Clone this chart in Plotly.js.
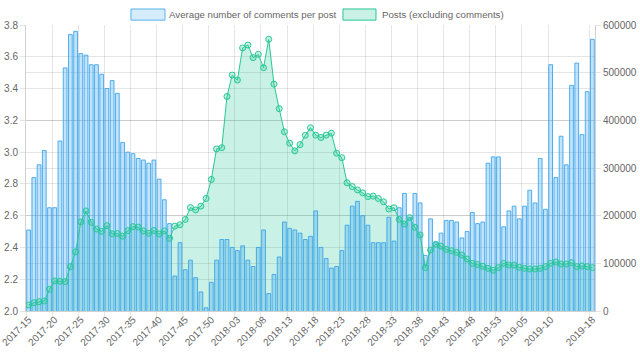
<!DOCTYPE html>
<html><head><meta charset="utf-8">
<script src="https://cdn.plot.ly/plotly-3.0.1.min.js"></script>
<style>html,body{margin:0;padding:0;background:#fff}#chart{width:640px;height:361px}</style>
</head><body><div id="chart"></div>
<script>
const weeks = [
"2017-15","2017-16","2017-17","2017-18","2017-19","2017-20","2017-21","2017-22","2017-23","2017-24",
"2017-25","2017-26","2017-27","2017-28","2017-29","2017-30","2017-31","2017-32","2017-33","2017-34",
"2017-35","2017-36","2017-37","2017-38","2017-39","2017-40","2017-41","2017-42","2017-43","2017-44",
"2017-45","2017-46","2017-47","2017-48","2017-49","2017-50","2017-51","2017-52",
"2018-01","2018-02","2018-03","2018-04","2018-05","2018-06","2018-07","2018-08","2018-09","2018-10",
"2018-11","2018-12","2018-13","2018-14","2018-15","2018-16","2018-17","2018-18","2018-19","2018-20",
"2018-21","2018-22","2018-23","2018-24","2018-25","2018-26","2018-27","2018-28","2018-29","2018-30",
"2018-31","2018-32","2018-33","2018-34","2018-35","2018-36","2018-37","2018-38","2018-39","2018-40",
"2018-41","2018-42","2018-43","2018-44","2018-45","2018-46","2018-47","2018-48","2018-49","2018-50",
"2018-51","2018-52","2018-53",
"2019-01","2019-02","2019-03","2019-04","2019-05","2019-06","2019-07","2019-08","2019-09","2019-10",
"2019-11","2019-12","2019-13","2019-14","2019-15","2019-16","2019-17","2019-18"
];
const avgComments = [
2.51,2.84,2.92,3.01,2.65,2.65,3.07,3.53,3.74,3.76,
3.62,3.61,3.55,3.55,3.49,3.40,3.45,3.37,3.06,3.00,
2.99,2.96,2.95,2.93,2.95,2.83,2.70,2.55,2.22,2.43,
2.26,2.32,2.21,2.12,2.02,2.18,2.32,2.45,2.45,2.40,
2.38,2.41,2.32,2.28,2.40,2.51,2.11,2.23,2.34,2.56,
2.52,2.51,2.49,2.45,2.47,2.63,2.40,2.33,2.27,2.28,
2.38,2.54,2.66,2.69,2.60,2.54,2.43,2.43,2.43,2.59,
2.44,2.65,2.74,2.59,2.74,2.68,2.35,2.58,2.43,2.49,
2.57,2.57,2.56,2.46,2.50,2.62,2.55,2.56,2.93,2.97,
2.97,2.53,2.63,2.66,2.58,2.66,2.76,2.68,2.96,2.64,
3.55,2.84,3.10,2.92,3.42,3.56,3.11,3.38,3.71
];
const posts = [
12600,17400,19500,21000,45500,63000,62500,61500,93000,124000,
187000,210000,186000,172000,167000,179000,162000,162500,157000,168500,
177000,176000,168000,163000,169000,161500,168000,152500,178000,181000,
192000,217000,212000,220000,236000,276000,340000,342600,450000,495000,
484600,552000,558000,531500,538500,510500,570000,476000,424500,376000,
352000,336000,349000,368500,384500,369000,364000,369000,373000,331000,
321600,269000,261000,254000,248000,240000,241000,236000,229000,214000,
216700,192000,182500,195800,175600,159500,91000,128000,140000,136000,
129400,126500,123000,117500,109000,100000,97500,94000,89500,85500,
91000,100000,96500,96500,91700,89500,88100,88100,89500,93000,
100000,102800,98600,98600,101400,93000,94400,93000,90900
];
const seriesNames = ["Average number of comments per post", "Posts (excluding comments)"];

const n = weeks.length;
const xi = weeks.map((w, i) => i);
const labelIdx = [];
for (let i = 0; i < n; i++) {
  if ((i % 5 === 0 && i + 5 < n) || i === n - 1) labelIdx.push(i);
}
const gridVals = labelIdx.map(i => i - 0.5);

const blue = 'rgb(54,162,235)';
const green = 'rgb(40,200,150)';
const font = {family: 'Liberation Sans, Arial, sans-serif', size: 10, color: '#666'};
const legendFont = {family: 'Liberation Sans, Arial, sans-serif', size: 9.7, color: '#666'};
const gridC = 'rgba(0,0,0,0.1)';
const lineC = 'rgba(0,0,0,0.18)';

const traces = [
  {type: 'scatter', x: xi, y: posts, xaxis: 'x', yaxis: 'y', mode: 'lines',
   line: {color: green, width: 0}, fill: 'tozeroy', fillcolor: 'rgba(40,200,150,0.25)',
   hoverinfo: 'skip', showlegend: false},
  {type: 'bar', x: xi, y: avgComments, xaxis: 'x', yaxis: 'y2',
   marker: {color: 'rgba(54,162,235,0.3)', line: {color: 'rgba(54,162,235,0.85)', width: 1}},
   hoverinfo: 'skip', showlegend: false},
  {type: 'scatter', x: xi, y: posts, xaxis: 'x2', yaxis: 'y3', mode: 'lines+markers',
   line: {color: green, width: 1},
   marker: {symbol: 'circle', size: 6, color: 'rgba(40,200,150,0.25)', line: {color: green, width: 1}},
   hoverinfo: 'skip', showlegend: false}
];

const layout = {
  width: 640, height: 361,
  margin: {l: 26, r: 45, t: 25, b: 50, pad: 0},
  paper_bgcolor: '#fff', plot_bgcolor: '#fff',
  font: font, showlegend: false, bargap: 0.28,
  xaxis: {range: [-0.5, n - 0.5], tickmode: 'array', tickvals: gridVals, showticklabels: false,
          ticks: 'outside', ticklen: 7, tickcolor: gridC, showgrid: true, gridcolor: gridC, gridwidth: 1,
          zeroline: false, showline: true, linecolor: lineC, linewidth: 1},
  xaxis2: {overlaying: 'x', anchor: 'y', side: 'bottom', range: [-0.5, n - 0.5], tickmode: 'array',
           tickvals: labelIdx, ticktext: labelIdx.map(i => weeks[i]), tickangle: -45,
           ticklabeloverflow: 'allow',
           ticks: '', showgrid: false, zeroline: false, showline: false, tickfont: font},
  yaxis: {side: 'right', anchor: 'x', range: [0, 600000], dtick: 100000, tickformat: 'd',
          showgrid: true, gridcolor: gridC, ticks: 'outside', ticklen: 5, tickcolor: gridC,
          ticklabeloverflow: 'allow',
          showline: true, linecolor: lineC, zeroline: false, tickfont: font},
  yaxis2: {overlaying: 'y', side: 'left', anchor: 'x', range: [2.0, 3.8], dtick: 0.2, tickformat: '.1f',
           showgrid: true, gridcolor: gridC, ticks: 'outside', ticklen: 5, tickcolor: gridC,
           ticklabeloverflow: 'allow',
           showline: true, linecolor: lineC, zeroline: false, tickfont: font},
  yaxis3: {overlaying: 'y', anchor: 'x2', range: [0, 600000], visible: false},
  shapes: [
    {type: 'rect', xref: 'paper', yref: 'paper', x0: 0.1845, x1: 0.2443, y0: 1.017, y1: 1.056,
     fillcolor: 'rgba(54,162,235,0.2)', line: {color: 'rgba(54,162,235,0.8)', width: 1}},
    {type: 'rect', xref: 'paper', yref: 'paper', x0: 0.5571, x1: 0.6151, y0: 1.017, y1: 1.056,
     fillcolor: 'rgba(40,200,150,0.25)', line: {color: green, width: 1}}
  ],
  annotations: [
    {xref: 'paper', yref: 'paper', x: 0.2478, y: 1.0367, xanchor: 'left', yanchor: 'middle',
     text: seriesNames[0], showarrow: false, font: legendFont},
    {xref: 'paper', yref: 'paper', x: 0.6221, y: 1.0367, xanchor: 'left', yanchor: 'middle',
     text: seriesNames[1], showarrow: false, font: legendFont}
  ]
};

Plotly.newPlot('chart', traces, layout, {staticPlot: true, displayModeBar: false});
</script>
</body></html>
